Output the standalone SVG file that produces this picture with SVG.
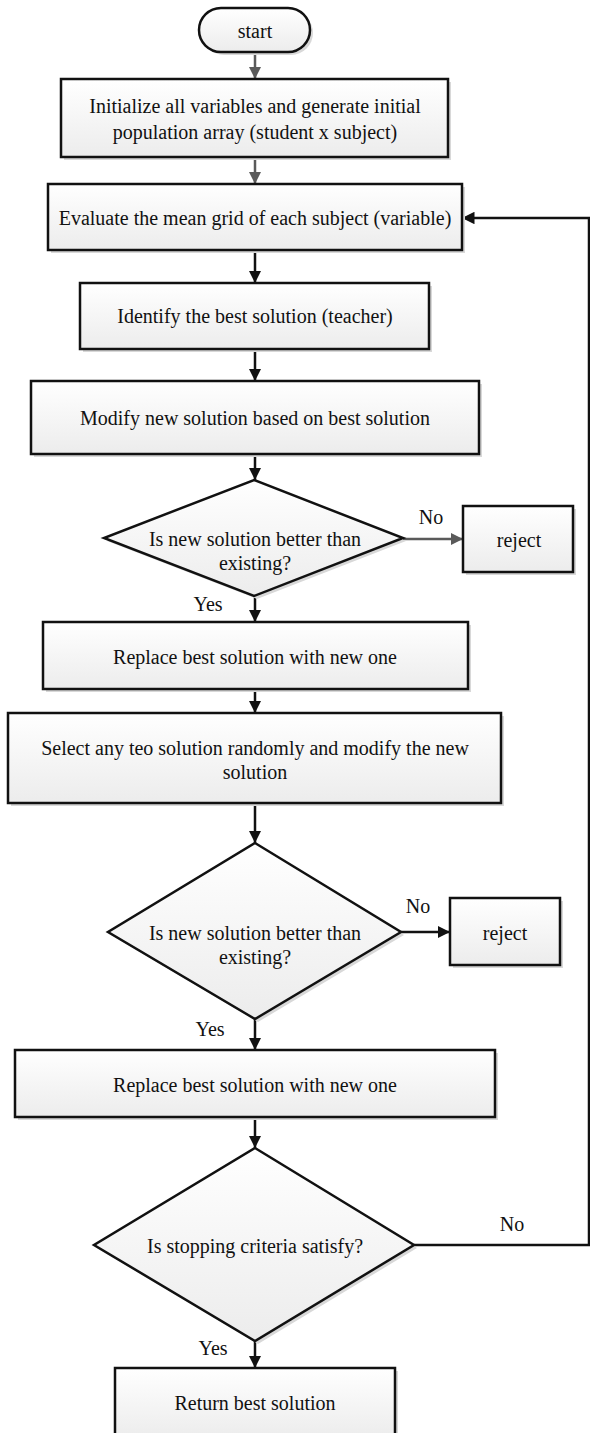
<svg xmlns="http://www.w3.org/2000/svg" width="590" height="1433" viewBox="0 0 590 1433">
<defs>
<linearGradient id="fill" x1="0" y1="0" x2="0" y2="1">
<stop offset="0" stop-color="#ffffff"/>
<stop offset="1" stop-color="#ececec"/>
</linearGradient>
<marker id="ab" viewBox="0 0 10 10" refX="10" refY="5" markerWidth="5" markerHeight="5" orient="auto" markerUnits="strokeWidth">
<path d="M0,0 L10,5 L0,10 z" fill="#111"/>
</marker>
<marker id="ag" viewBox="0 0 10 10" refX="10" refY="5" markerWidth="5" markerHeight="5" orient="auto" markerUnits="strokeWidth">
<path d="M0,0 L10,5 L0,10 z" fill="#5a5a5a"/>
</marker>
</defs>
<style>
.n{fill:url(#fill);stroke:#111;stroke-width:2.5}
.s{fill:#d8d8d8;stroke:none}
text{font-family:'Liberation Serif','Times New Roman',serif;font-size:20px;fill:#111;text-anchor:middle;dominant-baseline:central}
.c{fill:none;stroke:#111;stroke-width:2.5}
.cg{fill:none;stroke:#5a5a5a;stroke-width:2.5}
</style>
<rect width="590" height="1433" fill="#fff"/>
<g id="connectors">
<line class="cg" x1="255" y1="52" x2="255" y2="79" marker-end="url(#ag)"/>
<line class="cg" x1="255" y1="157" x2="255" y2="184" marker-end="url(#ag)"/>
<line class="c" x1="255" y1="250" x2="255" y2="283" marker-end="url(#ab)"/>
<line class="c" x1="255" y1="349" x2="255" y2="381" marker-end="url(#ab)"/>
<line class="c" x1="255" y1="454" x2="255" y2="480" marker-end="url(#ab)"/>
<line class="cg" x1="403" y1="539" x2="463" y2="539" marker-end="url(#ag)"/>
<line class="c" x1="255" y1="596" x2="255" y2="622" marker-end="url(#ab)"/>
<line class="c" x1="255" y1="689" x2="255" y2="713" marker-end="url(#ab)"/>
<line class="c" x1="255" y1="803" x2="255" y2="843" marker-end="url(#ab)"/>
<line class="c" x1="401" y1="932" x2="450" y2="932" marker-end="url(#ab)"/>
<line class="c" x1="255" y1="1019" x2="255" y2="1050" marker-end="url(#ab)"/>
<line class="c" x1="255" y1="1117" x2="255" y2="1148" marker-end="url(#ab)"/>
<line class="c" x1="255" y1="1341" x2="255" y2="1368" marker-end="url(#ab)"/>
<polyline class="c" points="414,1245 589,1245 589,218 462,218" marker-end="url(#ab)"/>
<text x="431" y="517">No</text>
<text x="208" y="604">Yes</text>
<text x="418" y="906">No</text>
<text x="210" y="1029">Yes</text>
<text x="512" y="1224">No</text>
<text x="213" y="1348">Yes</text>
</g>
<g id="start">
<rect class="s" x="202" y="11" width="111" height="44" rx="22"/>
<rect class="n" x="199" y="8" width="111" height="44" rx="22"/>
<text x="255" y="31">start</text>
</g>
<g id="init">
<rect class="s" x="64" y="82" width="387" height="78"/>
<rect class="n" x="61" y="79" width="387" height="78"/>
<text x="255" y="106">Initialize all variables and generate initial</text>
<text x="255" y="132">population array (student x subject)</text>
</g>
<g id="evaluate">
<rect class="s" x="51" y="187" width="414" height="66"/>
<rect class="n" x="48" y="184" width="414" height="66"/>
<text x="255" y="218">Evaluate the mean grid of each subject (variable)</text>
</g>
<g id="identify">
<rect class="s" x="83" y="286" width="349" height="66"/>
<rect class="n" x="80" y="283" width="349" height="66"/>
<text x="255" y="316">Identify the best solution (teacher)</text>
</g>
<g id="modify">
<rect class="s" x="34" y="384" width="448" height="73"/>
<rect class="n" x="31" y="381" width="448" height="73"/>
<text x="255" y="418">Modify new solution based on best solution</text>
</g>
<g id="decision1">
<polygon class="s" points="257,483 406,541 257,599 107,541"/>
<polygon class="n" points="254,480 403,538 254,596 104,538"/>
<text x="255" y="539">Is new solution better than</text>
<text x="255" y="563">existing?</text>
</g>
<g id="reject1">
<rect class="s" x="466" y="509" width="110" height="66"/>
<rect class="n" x="463" y="506" width="110" height="66"/>
<text x="519" y="540">reject</text>
</g>
<g id="replace1">
<rect class="s" x="46" y="625" width="425" height="67"/>
<rect class="n" x="43" y="622" width="425" height="67"/>
<text x="255" y="657">Replace best solution with new one</text>
</g>
<g id="select">
<rect class="s" x="11" y="716" width="493" height="90"/>
<rect class="n" x="8" y="713" width="493" height="90"/>
<text x="255" y="748">Select any teo solution randomly and modify the new</text>
<text x="255" y="772">solution</text>
</g>
<g id="decision2">
<polygon class="s" points="258,846 404,935 258,1022 111,935"/>
<polygon class="n" points="255,843 401,932 255,1019 108,932"/>
<text x="255" y="933">Is new solution better than</text>
<text x="255" y="957">existing?</text>
</g>
<g id="reject2">
<rect class="s" x="453" y="901" width="110" height="67"/>
<rect class="n" x="450" y="898" width="110" height="67"/>
<text x="505" y="933">reject</text>
</g>
<g id="replace2">
<rect class="s" x="18" y="1053" width="480" height="67"/>
<rect class="n" x="15" y="1050" width="480" height="67"/>
<text x="255" y="1085">Replace best solution with new one</text>
</g>
<g id="decision3">
<polygon class="s" points="258,1151 417,1248 258,1344 97,1248"/>
<polygon class="n" points="255,1148 414,1245 255,1341 94,1245"/>
<text x="255" y="1246">Is stopping criteria satisfy?</text>
</g>
<g id="return">
<rect class="s" x="118" y="1371" width="280" height="70"/>
<rect class="n" x="115" y="1368" width="280" height="70"/>
<text x="255" y="1403">Return best solution</text>
</g>
</svg>
